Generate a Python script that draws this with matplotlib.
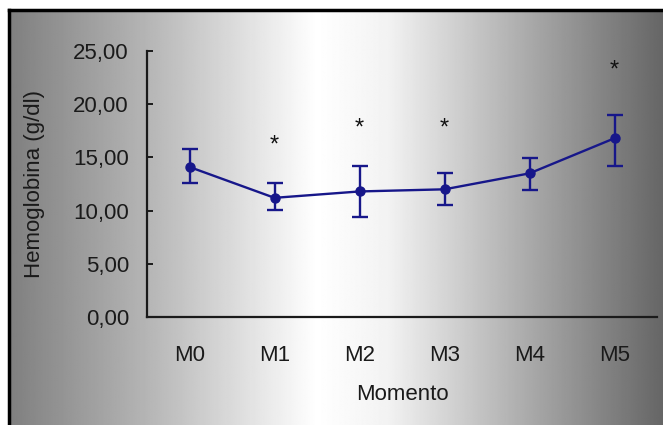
import numpy as np
import matplotlib
matplotlib.use("Agg")
import matplotlib.pyplot as plt

# ---------------------------------------------------------------
# Data
momentos = ["M0", "M1", "M2", "M3", "M4", "M5"]
media = [14.1, 11.2, 11.8, 12.0, 13.5, 16.8]
erro_sup = [15.8, 12.6, 14.2, 13.5, 14.9, 19.0]
erro_inf = [12.6, 10.1, 9.4, 10.5, 11.9, 14.2]

# asterisks (significance marks)
star_idx = [1, 2, 3, 5]
star_y = [16.4, 18.0, 18.0, 23.5]

y_ticks = [0, 5, 10, 15, 20, 25]
y_ticklabels = ["0,00", "5,00", "10,00", "15,00", "20,00", "25,00"]

plt.rcParams["font.family"] = ["Liberation Sans", "DejaVu Sans"]

W, H = 663, 425
fig = plt.figure(figsize=(W / 100, H / 100), dpi=100)
fig.patch.set_facecolor("white")

# ---------------------------------------------------------------
# Gradient background (gray - white - gray), with black frame left/top
bg = fig.add_axes([9 / W, 0, 1 - 9 / W, (H - 10) / H])
xs = np.linspace(0, 1, 600)
shade = np.interp(xs, [0.0, 0.22, 0.47, 0.58, 0.80, 1.0],
                  [0.50, 0.72, 1.0, 0.95, 0.66, 0.40])
grad = np.tile(shade, (10, 1))
bg.imshow(grad, cmap="gray", vmin=0, vmax=1, aspect="auto",
          extent=[0, 1, 0, 1], interpolation="bilinear")
bg.set_xlim(0, 1)
bg.set_ylim(0, 1)
bg.set_xticks([])
bg.set_yticks([])
for side in ["right", "bottom"]:
    bg.spines[side].set_visible(False)
for side in ["left", "top"]:
    bg.spines[side].set_color("black")
    bg.spines[side].set_linewidth(2.5)

# ---------------------------------------------------------------
# Main chart
ax = fig.add_axes([147 / W, (H - 317) / H, (657 - 147) / W, (317 - 51) / H])
ax.patch.set_alpha(0)

x = np.arange(len(momentos))
media = np.array(media)
yerr = [media - np.array(erro_inf), np.array(erro_sup) - media]

ax.errorbar(x, media, yerr=yerr, color="#17178a", marker="o",
            markersize=6.5, linewidth=1.7, elinewidth=1.7,
            capsize=6, capthick=1.7)

for i, ys in zip(star_idx, star_y):
    ax.text(x[i], ys - 0.3, "*", ha="center", va="center", fontsize=17,
            color="#111111")

ax.set_xlim(-0.5, 5.5)
ax.set_ylim(0, 25)
ax.set_yticks(y_ticks)
ax.set_yticklabels(y_ticklabels)
ax.set_xticks(x)
ax.set_xticklabels(momentos)

ax.spines["top"].set_visible(False)
ax.spines["right"].set_visible(False)
for side in ["left", "bottom"]:
    ax.spines[side].set_color("#1a1a1a")
    ax.spines[side].set_linewidth(1.6)

ax.tick_params(axis="y", direction="in", length=4, width=1.4,
               pad=13, labelsize=16, colors="#1a1a1a")
ax.tick_params(axis="x", length=0, pad=20, labelsize=16,
               colors="#1a1a1a")

ax.set_xlabel("Momento", fontsize=16, labelpad=13, color="#1a1a1a")
ax.set_ylabel("Hemoglobina (g/dl)", fontsize=16, labelpad=20,
              color="#1a1a1a")

fig.savefig("out.png", dpi=100)
